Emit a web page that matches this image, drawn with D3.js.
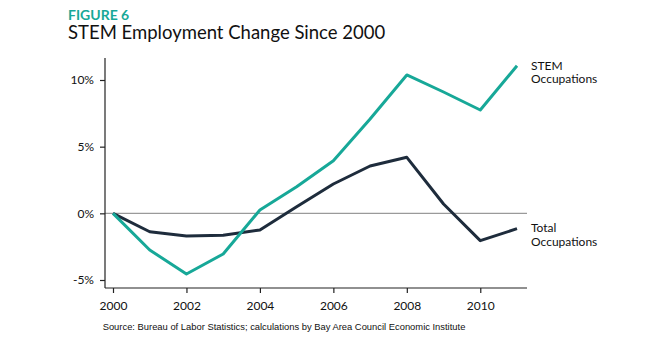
<!DOCTYPE html>
<html><head><meta charset="utf-8">
<script src="https://cdn.jsdelivr.net/npm/d3@7"></script>
<style>body{margin:0;background:#fff}svg{display:block}</style>
</head><body><svg id="c" width="655" height="356"></svg>
<script>
const years = [2000,2001,2002,2003,2004,2005,2006,2007,2008,2009,2010,2011];
const stem  = [0,-2.75,-4.55,-3.05,0.25,2.0,3.95,7.08,10.38,9.1,7.75,11.07];
const total = [0,-1.38,-1.7,-1.65,-1.25,0.5,2.2,3.55,4.2,0.7,-2.05,-1.15];
const yTicks = [-5,0,5,10];
const xTicks = [2000,2002,2004,2006,2008,2010];
const seriesNames = [["STEM","Occupations"],["Total","Occupations"]];

const svg = d3.select("#c");
const x = d3.scaleLinear().domain([2000,2011]).range([113,517]);
const y = d3.scaleLinear().domain([-5,10]).range([280,80]);
const font = "Lato, 'Noto Sans', sans-serif";

svg.append("text").attr("x",68).attr("y",19.5).attr("fill","#17a898")
  .attr("font-family",font).attr("font-weight",700).attr("font-size",14).text("FIGURE 6");
svg.append("text").attr("x",68).attr("y",39).attr("fill","#111")
  .attr("font-family",font).attr("font-size",18.5).text("STEM Employment Change Since 2000");

// zero line
svg.append("line").attr("x1",105).attr("x2",527).attr("y1",y(0)).attr("y2",y(0))
  .attr("stroke","#9a9a9a").attr("stroke-width",1.2);

// axes
const yAxis = svg.append("g").attr("transform","translate(105,0)")
  .call(d3.axisLeft(y).tickValues(yTicks).tickSize(5).tickPadding(6).tickFormat(d=>d+"%"));
yAxis.select(".domain").attr("d","M0,58V288");
const xAxis = svg.append("g").attr("transform","translate(0,288)")
  .call(d3.axisBottom(x).tickValues(xTicks).tickSize(5).tickPadding(8).tickFormat(d3.format("d")));
xAxis.select(".domain").attr("d","M105,0H527");
[yAxis,xAxis].forEach(g=>{
  g.selectAll("text").attr("font-family",font).attr("font-size",12).attr("fill","#111");
  g.selectAll("line,path").attr("stroke","#222").attr("stroke-width",1.2);
});

const line = d3.line().x((d,i)=>x(years[i])).y(d=>y(d));
svg.append("path").datum(total).attr("d",line).attr("fill","none")
  .attr("stroke","#1e2c3c").attr("stroke-width",3).attr("stroke-linejoin","round");
svg.append("path").datum(stem).attr("d",line).attr("fill","none")
  .attr("stroke","#17a898").attr("stroke-width",3).attr("stroke-linejoin","round");

// labels
[[69.5],[232]].forEach((s,k)=>{
  seriesNames[k].forEach((w,j)=>{
    svg.append("text").attr("x",531).attr("y",s[0]+j*13.5).attr("font-family",font)
      .attr("font-size",12).attr("fill","#111").text(w);
  });
});

svg.append("text").attr("x",284).attr("y",330).attr("text-anchor","middle")
  .attr("font-family","'Liberation Sans', Arial, sans-serif").attr("font-size",9.4).attr("fill","#111")
  .text("Source: Bureau of Labor Statistics; calculations by Bay Area Council Economic Institute");
</script></body></html>
